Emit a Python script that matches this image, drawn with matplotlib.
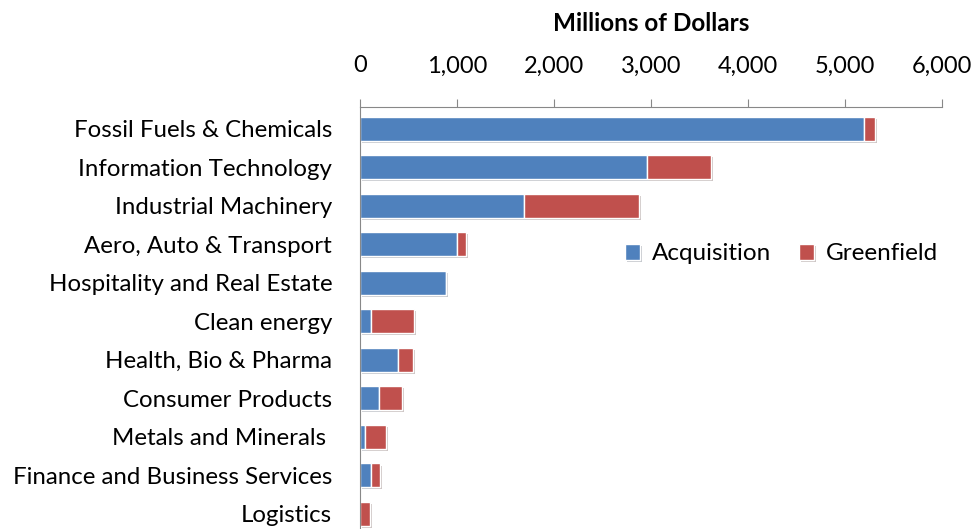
import numpy as np
import matplotlib.pyplot as plt
import matplotlib.patheffects as pe

plt.rcParams['font.family'] = ['Lato', 'DejaVu Sans']

sectors = ["Fossil Fuels & Chemicals", "Information Technology", "Industrial Machinery",
           "Aero, Auto & Transport", "Hospitality and Real Estate", "Clean energy",
           "Health, Bio & Pharma", "Consumer Products", "Metals and Minerals ",
           "Finance and Business Services", "Logistics"]
acquisition = [5200, 2960, 1690, 1000, 886, 117, 391, 200, 55, 117, 0]
greenfield = [110, 655, 1190, 92, 0, 439, 155, 229, 216, 92, 103]

blue = "#4F81BD"
red = "#C0504D"
shadow = [pe.SimplePatchShadow(offset=(1.5, -1.5), alpha=0.25), pe.Normal()]

fig = plt.figure(figsize=(9.76, 5.29), dpi=100)
ax = fig.add_axes([360/976, 0, 582/976, 1 - 107/529])

y = np.arange(len(sectors))
b1 = ax.barh(y, acquisition, height=0.62, color=blue, edgecolor="white", linewidth=1,
             label="Acquisition")
b2 = ax.barh(y, greenfield, left=acquisition, height=0.62, color=red, edgecolor="white",
             linewidth=1, label="Greenfield")
for bar in list(b1) + list(b2):
    bar.set_path_effects(shadow)

ax.set_xlim(0, 6000)
ax.set_ylim(10.39, -0.56)
ax.xaxis.tick_top()
ax.set_xticks(range(0, 6001, 1000))
ax.set_xticklabels([f"{v:,}" for v in range(0, 6001, 1000)], fontsize=17)
ax.tick_params(axis="x", direction="out", length=6, color="#888888", pad=16)
ax.set_yticks(y)
ax.set_yticklabels(sectors, fontsize=17.3)
ax.tick_params(axis="y", length=0, pad=20)

# axis title sits well above the tick labels
fig.text(651/976, 1 - 31/529, "Millions of Dollars", fontsize=17.5, fontweight="bold",
         ha="center", va="baseline")

for side in ["right", "bottom"]:
    ax.spines[side].set_visible(False)
for side in ["left", "top"]:
    ax.spines[side].set_color("#888888")

ax.legend(loc="center left", bbox_to_anchor=(0.418, 0.652), ncol=2, frameon=False,
          fontsize=17.5, handlelength=0.6, handleheight=0.6, columnspacing=1.15,
          handletextpad=0.5)

fig.savefig("out.png", dpi=100)
